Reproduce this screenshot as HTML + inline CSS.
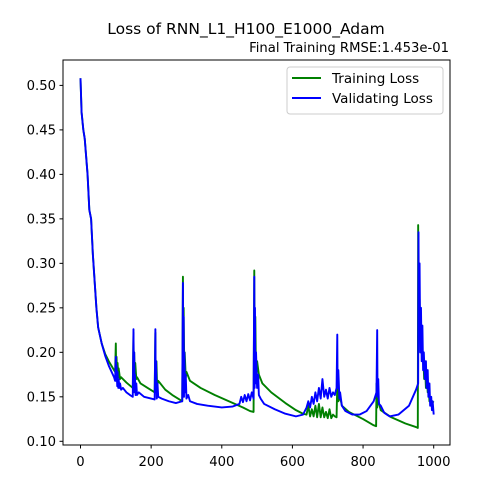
<!DOCTYPE html>
<html><head><meta charset="utf-8">
<style>
html,body{margin:0;padding:0;background:#fff;width:500px;height:500px;overflow:hidden}
text{font-family:"DejaVu Sans","Liberation Sans",sans-serif;fill:#000}
</style></head>
<body>
<svg id="chart" width="500" height="500" xmlns="http://www.w3.org/2000/svg">
<rect width="500" height="500" fill="#fff"/>
<text x="246" y="34" font-size="15.5" text-anchor="middle">Loss of RNN_L1_H100_E1000_Adam</text>
<text x="449" y="52" font-size="13.2" text-anchor="end">Final Training RMSE:1.453e-01</text>
<g id="plot"></g>
<rect x="63" y="60" width="387" height="385" fill="none" stroke="#000" stroke-width="1"/>
<g>
<rect x="287" y="67" width="156" height="47" rx="3" fill="#fff" fill-opacity="0.8" stroke="#ccc"/>
<line x1="292" y1="78" x2="321" y2="78" stroke="#008000" stroke-width="2"/>
<text x="332" y="83" font-size="13.5">Training Loss</text>
<line x1="292" y1="98" x2="321" y2="98" stroke="#0000ff" stroke-width="2"/>
<text x="332" y="103" font-size="13.5">Validating Loss</text>
</g>
</svg>
<script>
const xTicks=[0,200,400,600,800,1000];
const yTicks=[0.10,0.15,0.20,0.25,0.30,0.35,0.40,0.45,0.50];
const trainEpochs=[0,3,8,12,20,25,30,35,40,45,50,60,70,80,95,98,100,101,102,104,105,107,108,112,115,130,148,150,151,152,154,155,158,160,170,190,210,212,213,215,217,220,240,260,280,288,290,291,292,294,295,298,300,310,340,380,420,460,480,490,492,493,495,497,500,505,515,540,580,610,630,640,645,650,655,660,665,670,675,680,685,690,695,700,705,710,715,720,725,727,730,735,740,760,800,830,837,838,840,842,850,880,920,950,955,956,958,960,962,965,968,970,973,975,978,980,983,985,988,990,995,1000];
const trainValues=[0.508,0.47,0.45,0.44,0.40,0.36,0.35,0.31,0.28,0.25,0.228,0.21,0.198,0.19,0.18,0.178,0.21,0.18,0.195,0.172,0.188,0.172,0.182,0.17,0.172,0.166,0.16,0.222,0.18,0.2,0.172,0.188,0.17,0.172,0.165,0.16,0.155,0.222,0.17,0.19,0.162,0.168,0.158,0.152,0.147,0.145,0.285,0.2,0.25,0.175,0.2,0.172,0.178,0.168,0.16,0.152,0.145,0.138,0.134,0.133,0.292,0.2,0.24,0.17,0.19,0.175,0.165,0.155,0.143,0.135,0.131,0.13,0.14,0.128,0.136,0.128,0.14,0.127,0.142,0.127,0.138,0.127,0.133,0.126,0.136,0.126,0.13,0.128,0.127,0.165,0.145,0.15,0.14,0.133,0.125,0.118,0.117,0.165,0.138,0.148,0.135,0.127,0.12,0.116,0.115,0.343,0.23,0.26,0.2,0.215,0.19,0.2,0.17,0.19,0.16,0.18,0.155,0.165,0.145,0.15,0.143,0.145];
const valEpochs=[0,3,8,12,20,25,30,35,40,45,50,60,70,80,95,98,100,101,102,104,105,107,108,110,112,115,120,130,140,148,150,151,152,153,154,156,158,160,165,180,200,210,212,213,214,216,218,220,230,250,270,288,290,291,292,293,294,296,298,300,305,310,330,360,400,430,450,455,460,465,470,475,480,485,490,492,493,494,495,497,500,503,505,510,520,550,580,610,630,640,645,650,655,660,665,670,675,680,685,690,695,700,705,710,715,720,725,727,728,730,733,735,740,750,770,790,810,830,838,840,841,843,845,850,860,875,900,930,950,956,957,958,960,962,964,966,968,970,972,975,978,980,983,985,988,990,993,995,997,1000];
const valValues=[0.508,0.47,0.45,0.44,0.40,0.36,0.35,0.31,0.28,0.25,0.228,0.21,0.196,0.185,0.172,0.168,0.195,0.168,0.185,0.162,0.178,0.16,0.17,0.16,0.165,0.158,0.16,0.155,0.152,0.15,0.226,0.165,0.2,0.155,0.175,0.152,0.165,0.152,0.155,0.15,0.148,0.147,0.226,0.155,0.19,0.148,0.165,0.15,0.148,0.145,0.143,0.145,0.278,0.16,0.24,0.15,0.2,0.155,0.175,0.148,0.152,0.145,0.142,0.14,0.138,0.139,0.142,0.15,0.144,0.152,0.145,0.153,0.146,0.155,0.148,0.285,0.16,0.25,0.165,0.2,0.16,0.175,0.152,0.148,0.142,0.136,0.131,0.128,0.13,0.138,0.145,0.138,0.15,0.142,0.155,0.145,0.16,0.148,0.17,0.15,0.158,0.148,0.16,0.15,0.155,0.152,0.16,0.22,0.16,0.18,0.148,0.155,0.14,0.134,0.13,0.13,0.134,0.145,0.155,0.225,0.15,0.17,0.142,0.14,0.132,0.128,0.13,0.14,0.158,0.165,0.335,0.24,0.3,0.2,0.25,0.19,0.23,0.18,0.2,0.17,0.19,0.16,0.18,0.15,0.165,0.14,0.15,0.135,0.145,0.13];
const X0=80.5,XS=0.3532,Y0=441.3,YS=889.75;
function xs(v){return X0+v*XS;}
function ys(v){return Y0-(v-0.10)*YS;}
const NS='http://www.w3.org/2000/svg';
const plot=document.getElementById('plot');
const svg=document.getElementById('chart');
function mk(tag,attrs,parent){const e=document.createElementNS(NS,tag);for(const k in attrs)e.setAttribute(k,attrs[k]);(parent||svg).appendChild(e);return e;}
xTicks.forEach(t=>{
  const l=mk('line',{x1:xs(t),x2:xs(t),y1:445,y2:448.5,stroke:'#000'});
  
  
  const tx=mk('text',{x:xs(t),y:466,'font-size':'13.2','text-anchor':'middle'});
  tx.textContent=t;
  
  
});
yTicks.forEach(t=>{
  const l=mk('line',{x1:59.5,x2:63,y1:ys(t),y2:ys(t),stroke:'#000'});
  
  
  const tx=mk('text',{x:56,y:ys(t)+4.8,'font-size':'13.2','text-anchor':'end'});
  tx.textContent=t.toFixed(2);
  
  
});
function line(ex,vals,color){
  const d=ex.map((e,i)=>(i?'L':'M')+xs(e).toFixed(2)+','+ys(vals[i]).toFixed(2)).join('');
  return mk('path',{d:d,fill:'none',stroke:color,'stroke-width':'1.9','stroke-linejoin':'round'},plot);
}
const tl=line(trainEpochs,trainValues,'#008000');


const vl=line(valEpochs,valValues,'#0000ff');


</script>
</body></html>
